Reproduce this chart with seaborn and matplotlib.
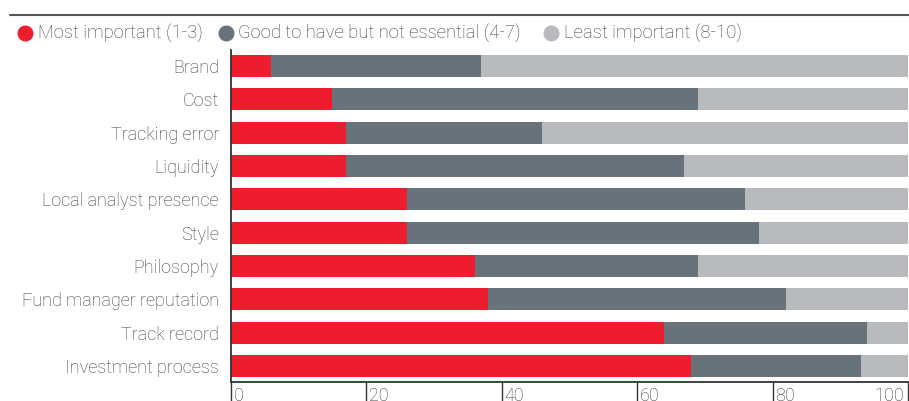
import matplotlib
matplotlib.use("Agg")
import matplotlib.pyplot as plt
import matplotlib.transforms as mtransforms
from matplotlib.lines import Line2D
import seaborn as sns
import pandas as pd

# Survey factors, ranked share of responses (%)
factors = ["Brand", "Cost", "Tracking error", "Liquidity", "Local analyst presence",
           "Style", "Philosophy", "Fund manager reputation", "Track record",
           "Investment process"]
most_important = [6, 15, 17, 17, 26, 26, 36, 38, 64, 68]
good_to_have = [31, 54, 29, 50, 50, 52, 33, 44, 30, 25]
least_important = [63, 31, 54, 33, 24, 22, 31, 18, 6, 7]

series_names = ["Most important (1-3)", "Good to have but not essential (4-7)",
                "Least important (8-10)"]
colors = ["#ED1C2E", "#67727A", "#B9BABE"]
x_ticks = [0, 20, 40, 60, 80, 100]

text_color = "#3C3C3C"
sns.set_theme(style="white")
plt.rcParams["font.family"] = ["Roboto", "DejaVu Sans"]
plt.rcParams["font.weight"] = "light"

df = pd.DataFrame({
    "factor": factors,
    "most": most_important,
    "good": good_to_have,
    "least": least_important,
})
df["c1"] = df["most"]
df["c2"] = df["most"] + df["good"]
df["c3"] = df["c2"] + df["least"]

fig = plt.figure(figsize=(9.09, 4.01), dpi=100)
ax = fig.add_axes([230.7 / 909, 19 / 401, (908 - 230.7) / 909, 332 / 401])

# Stacked bars: draw cumulative totals back to front
for col, colr in zip(["c3", "c2", "c1"], colors[::-1]):
    sns.barplot(data=df, x=col, y="factor", order=factors, color=colr,
                width=0.66, orient="h", ax=ax, saturation=1, linewidth=0)

ax.set_xlim(0, 100)
ax.set_ylim(len(factors) - 0.52, -0.48)
ax.set_xlabel("")
ax.set_ylabel("")

for s in ["top", "right"]:
    ax.spines[s].set_visible(False)
for s in ["left", "bottom"]:
    ax.spines[s].set_color("#333333")
    ax.spines[s].set_linewidth(1.3)

# Long ticks hang below the axis; labels sit beside them, just under the axis line
ax.set_xticks(x_ticks)
ax.set_xticklabels([str(t) for t in x_ticks])
ax.tick_params(axis="x", direction="out", length=16, width=1.0, color="#333333",
               pad=-12.5, labelsize=13, labelcolor=text_color, bottom=True)
ax.tick_params(axis="y", length=0, pad=8.5, labelsize=13, labelcolor=text_color)

labels = ax.get_xticklabels()
for i, lab in enumerate(labels):
    if i == len(labels) - 1:
        lab.set_ha("right")
        off = mtransforms.ScaledTranslation(-4 / 100, 0, fig.dpi_scale_trans)
    else:
        lab.set_ha("left")
        off = mtransforms.ScaledTranslation(3 / 100, 0, fig.dpi_scale_trans)
    lab.set_va("top")
    lab.set_transform(lab.get_transform() + off)

# Rule above the legend
fig.add_artist(Line2D([10 / 909, 1.0], [1 - 14.7 / 401, 1 - 14.7 / 401],
                      transform=fig.transFigure, color="#555555", linewidth=1.5))

# Legend row
legend_y = 1 - 33 / 401
marker_x = [25, 226, 551]
for mx, name, colr in zip(marker_x, series_names, colors):
    fig.add_artist(Line2D([mx / 909], [legend_y], marker="o", markersize=10.5,
                          color=colr, linestyle="none", transform=fig.transFigure))
    fig.text((mx + 12.5) / 909, legend_y, name, ha="left", va="center",
             fontsize=13.3, color=text_color)

fig.savefig("out.png", dpi=100)
